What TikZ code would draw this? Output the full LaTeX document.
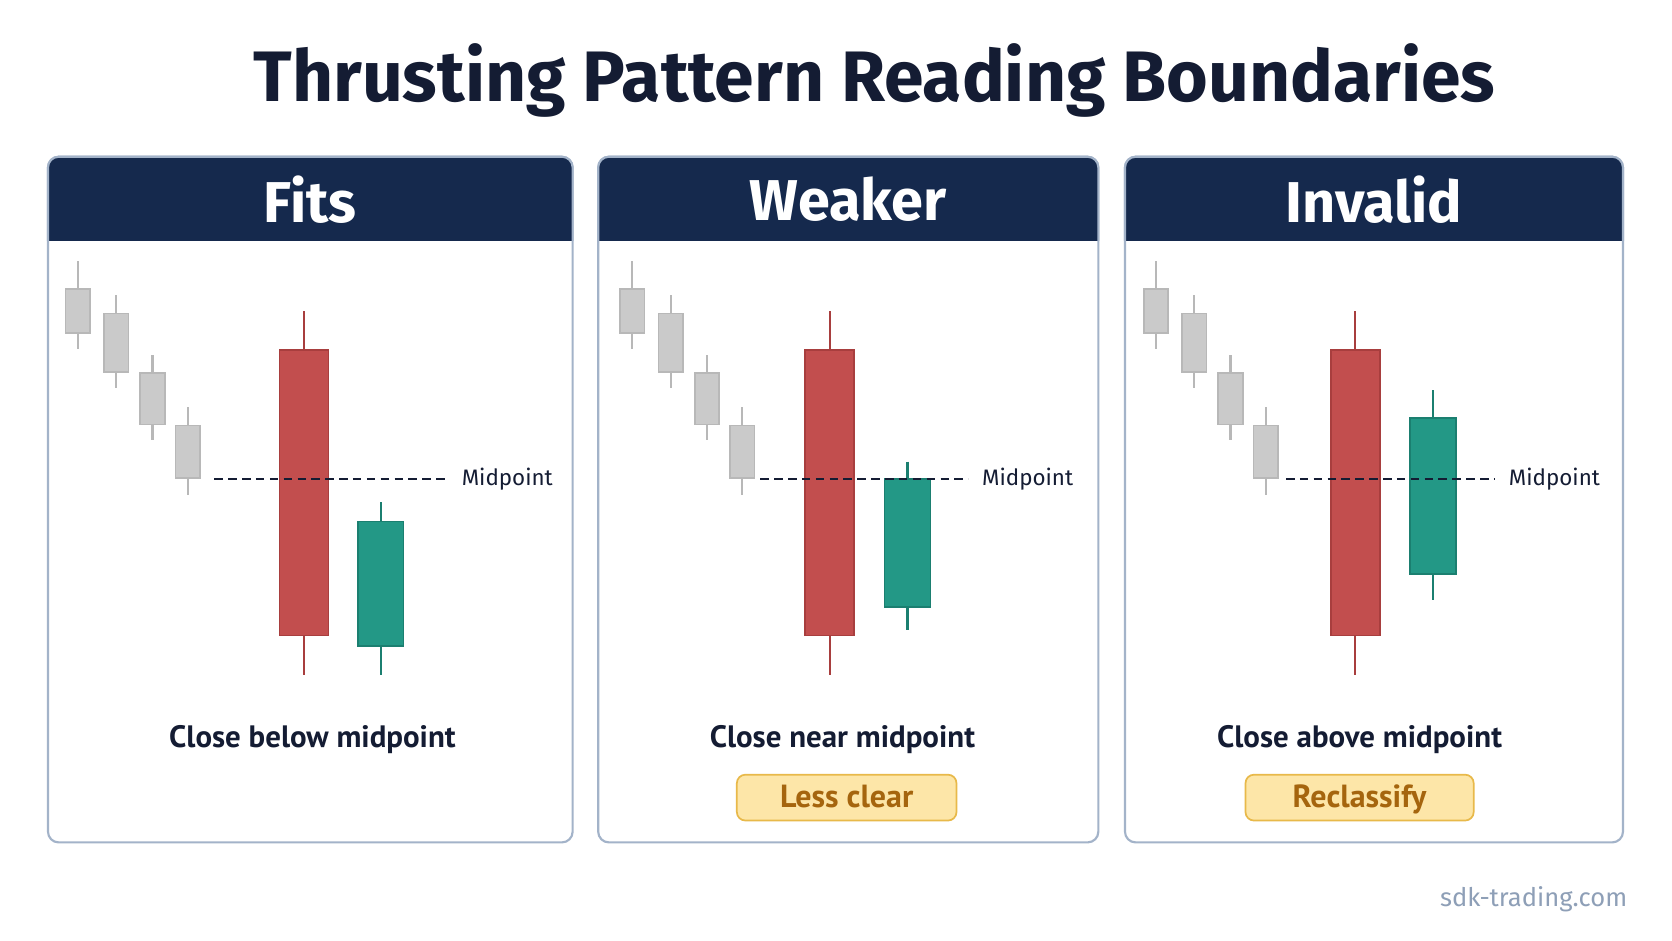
\documentclass[tikz,border=0pt]{standalone}
\usepackage{fontspec}
\setmainfont{Fira Sans}
\newfontfamily\ptsans{PT Sans}
\definecolor{navy}{HTML}{15294D}
\definecolor{ink}{HTML}{141C33}
\definecolor{pborder}{HTML}{A3B3C9}
\definecolor{redc}{HTML}{C24E4E}
\definecolor{rede}{HTML}{A83E3E}
\definecolor{grnc}{HTML}{239886}
\definecolor{grne}{HTML}{1B7F70}
\definecolor{grayc}{HTML}{CACACA}
\definecolor{graye}{HTML}{B8B8B8}
\definecolor{badgef}{HTML}{FDE6A8}
\definecolor{badgee}{HTML}{E8B94A}
\definecolor{badget}{HTML}{A5650E}
\definecolor{wm}{HTML}{8E9FB7}
\tikzset{
 panel/.style={draw=pborder,line width=1pt,rounded corners=5pt,fill=white},
 hdr/.style={text=white,font=\fontsize{27}{30}\selectfont\bfseries},
 captxt/.style={text=ink,font=\ptsans\fontsize{14.5}{18}\selectfont\bfseries},
 badge/.style={draw=badgee,fill=badgef,rounded corners=4pt,line width=0.8pt,text=badget,font=\ptsans\fontsize{15}{17}\selectfont\bfseries,minimum width=103pt,minimum height=21.5pt,inner sep=0pt,text height=12.5pt,text depth=3pt},
 mid/.style={text=ink,font=\fontsize{10.5}{12}\selectfont,anchor=west},
 midline/.style={draw=ink,dash pattern=on 4pt off 2.5pt,line width=0.8pt},
}
\newcommand\cdl[8]{%
 \draw[#8,line width=1pt] (#1,#2) -- (#1,#5);
 \filldraw[fill=#7,draw=#8,line width=0.8pt] (#1-#6,#3) rectangle (#1+#6,#4);}
\begin{document}
\begin{tikzpicture}[x=0.5pt,y=-0.5pt]
\useasboundingbox[fill=white] (0,0) rectangle (1568,882);
\node[text=ink,font=\fontsize{33.5}{40}\selectfont\bfseries] (title) at (820,75) {Thrusting Pattern Reading Boundaries};
\foreach \L/\R/\H/\g/\rd/\gr/\gt/\gbt/\gbb/\gbw/\dl/\dr/\cx/\ctext in {
 45/537/Fits/0/285/357/471/489/606/633/201/420/293/Close below midpoint,
 561/1030/Weaker/520/778/851/433/449/569/591/713/908/790/Close near midpoint,
 1055/1522/Invalid/1011/1271/1344/366/392/538/563/1206/1402/1275/Close above midpoint}{
 \draw[panel] (\L,147) rectangle (\R,790);
 \begin{scope}
 \clip[rounded corners=5pt] (\L,147) rectangle (\R,300);
 \fill[navy] (\L,147) rectangle (\R,226);
 \end{scope}
 \draw[pborder,line width=1pt,rounded corners=5pt] (\L,226) -- (\L,147) -- (\R,147) -- (\R,226);
 \node[hdr] (h\H) at ({(\L+\R)/2},187) {\H};
 \cdl{73+\g}{245}{271}{312}{327}{11.5}{grayc}{graye}
 \cdl{109+\g}{277}{294}{349}{364}{11.5}{grayc}{graye}
 \cdl{143+\g}{333}{350}{398}{413}{11.5}{grayc}{graye}
 \cdl{176+\g}{382}{399}{448}{464}{11.5}{grayc}{graye}
 \cdl{\rd}{292}{328}{596}{633}{23}{redc}{rede}
 \cdl{\gr}{\gt}{\gbt}{\gbb}{\gbw}{21.5}{grnc}{grne}
 \coordinate (a\H) at (\dl,449);
 \coordinate (b\H) at (\dr,449);
 \draw[midline] (a\H) -- (b\H);
 \node[mid] (m\H) at (\dr+6,449) {Midpoint};
 \node[captxt] (c\H) at (\cx,694) {\ctext};
}
\node[badge] (b1) at (794,748) {Less clear};
\node[badge,minimum width=107pt] (b2) at (1275,748) {Reclassify};
\node[text=wm,font=\fontsize{12}{14}\selectfont,anchor=east] (wm) at (1533,843) {sdk-trading.com};
\end{tikzpicture}
\end{document}
